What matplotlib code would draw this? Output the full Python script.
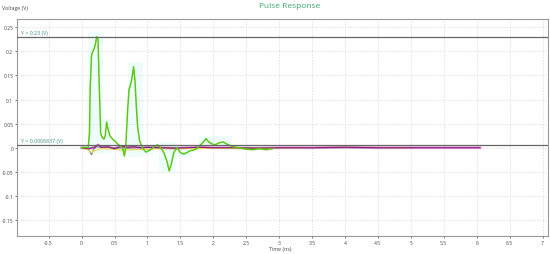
import matplotlib
matplotlib.use("Agg")
import matplotlib.pyplot as plt

plt.rcParams['font.family'] = ['Open Sans', 'DejaVu Sans']

# green trace (main pulse response)
green_t = [0.0, 0.05, 0.1, 0.12, 0.13, 0.15, 0.17, 0.19, 0.21, 0.23, 0.25, 0.27, 0.29,
           0.31, 0.34, 0.36, 0.38, 0.40, 0.43, 0.47, 0.52, 0.56, 0.6, 0.63, 0.65, 0.67,
           0.70, 0.72, 0.74, 0.76, 0.79, 0.81, 0.83, 0.85, 0.88, 0.91, 0.95, 0.98, 1.02,
           1.06, 1.1, 1.15, 1.2, 1.25, 1.3, 1.33, 1.36, 1.4, 1.45, 1.5, 1.55, 1.6, 1.65,
           1.7, 1.75, 1.8, 1.85, 1.89, 1.93, 1.98, 2.03, 2.08, 2.15, 2.2, 2.25, 2.3, 2.4,
           2.5, 2.6, 2.7, 2.8, 2.9]
green_v = [0.0, 0.001, 0.0, 0.03, 0.12, 0.19, 0.2, 0.205, 0.215, 0.23, 0.225, 0.12, 0.03,
           0.022, 0.018, 0.025, 0.053, 0.04, 0.025, 0.018, 0.012, 0.006, 0.003, -0.004, -0.017, 0.0,
           0.08, 0.12, 0.13, 0.14, 0.168, 0.14, 0.09, 0.045, 0.015, 0.004, -0.005, -0.009, -0.006,
           -0.003, 0.002, 0.006, 0.0, -0.01, -0.03, -0.048, -0.035, -0.01, 0.0, -0.01, -0.013, -0.01, -0.006,
           -0.005, -0.002, 0.005, 0.012, 0.019, 0.012, 0.008, 0.006, 0.01, 0.012, 0.008, 0.005, 0.002, 0.0,
           -0.003, -0.004, -0.002, -0.004, -0.002]

# magenta trace
magenta_t = [0.0, 0.1, 0.2, 0.25, 0.3, 0.4, 0.5, 0.6, 0.7, 0.8, 0.9, 1.0, 1.2, 1.4, 1.6, 1.8,
             2.0, 2.3, 2.6, 3.0, 3.5, 4.0, 4.5, 5.0, 5.5, 6.05]
magenta_v = [0.0, -0.002, 0.001, 0.006, 0.001, 0.002, -0.002, 0.003, 0.001, 0.002, 0.0, 0.001,
             0.0, -0.001, 0.0, 0.001, 0.0, 0.0, -0.001, 0.0, 0.0, 0.001, 0.0, 0.0, 0.0, 0.0]

# yellow trace
yellow_t = [0.0, 0.1, 0.15, 0.2, 0.3, 0.5, 0.6, 0.8, 1.0, 1.2, 1.5, 2.0, 2.5, 3.0, 4.0, 5.0]
yellow_v = [0.0, -0.004, -0.01, -0.006, -0.002, -0.003, -0.005, -0.004, -0.003, -0.002,
            -0.002, -0.001, -0.002, 0.0, 0.001, 0.0]

# gray trace
gray_t = [0.0, 0.08, 0.12, 0.15, 0.18, 0.22, 0.3, 0.5, 0.7, 1.0, 1.5, 2.0, 3.0, 4.0, 5.0]
gray_v = [0.0, 0.0, -0.006, -0.015, -0.004, 0.002, 0.001, 0.0, -0.001, 0.001, 0.0, 0.0,
          0.0, 0.0, 0.0]

# highlighted regions (t0, t1, v0, v1)
hl_t0 = [0.09, 0.32, 0.58, 0.70, 0.93, 1.18, 1.33, 1.79]
hl_t1 = [0.32, 0.45, 0.68, 0.93, 1.08, 1.43, 1.68, 2.29]
hl_v0 = [-0.013, -0.01, -0.02, -0.02, -0.015, -0.052, -0.02, 0.003]
hl_v1 = [0.24, 0.06, 0.005, 0.178, 0.005, 0.012, 0.002, 0.024]

# cursor lines
cursor_y = [0.23, 0.0066837]
cursor_lbl = ["Y = 0.23 (V)", "Y = 0.0066837 (V)"]

fig = plt.figure(figsize=(5.5, 2.55), dpi=100)
ax = fig.add_axes([0.031, 0.0706, 0.965, 0.851])

for a, b, c, d in zip(hl_t0, hl_t1, hl_v0, hl_v1):
    ax.fill_between([a, b], c, d, color='#eefdfb', lw=0, zorder=1)

ax.plot(gray_t, gray_v, color='#8a8a8a', lw=0.8, zorder=3)
ax.plot(yellow_t, yellow_v, color='#e8d84a', lw=0.8, zorder=3)
ax.plot(magenta_t, magenta_v, color='#f0a8e8', lw=2.0, zorder=2)
ax.plot(magenta_t, magenta_v, color='#8a1f7a', lw=0.9, zorder=4)
ax.plot(green_t, green_v, color='#5cc814', lw=1.1, zorder=5)

for y, lbl in zip(cursor_y, cursor_lbl):
    ax.axhline(y, color='#666666', lw=0.9, zorder=6)
    ax.text(-0.92, y + 0.004, lbl, color='#3a8f80', fontsize=3.8, va='bottom', ha='left')

ax.set_xlim(-0.98, 7.08)
ax.set_ylim(-0.183, 0.267)
ax.set_xticks([-0.5, 0, 0.5, 1, 1.5, 2, 2.5, 3, 3.5, 4, 4.5, 5, 5.5, 6, 6.5, 7])
ax.set_xticklabels(['-0.5', '0', '0.5', '1', '1.5', '2', '2.5', '3', '3.5', '4', '4.5',
                    '5', '5.5', '6', '6.5', '7'])
ax.set_yticks([-0.15, -0.1, -0.05, 0, 0.05, 0.1, 0.15, 0.2, 0.25])
ax.set_yticklabels(['-0.15', '-0.1', '-0.05', '0', '0.05', '0.1', '0.15', '0.2', '0.25'])
ax.tick_params(labelsize=3.6, length=1.5, width=0.5, pad=1.2, colors='#444444')
ax.grid(True, color='#d8d8d8', ls=(0, (2, 2)), lw=0.5)
for s in ax.spines.values():
    s.set_color('#999999')
    s.set_linewidth(0.8)

fig.text(0.527, 0.975, "Pulse Response", color='#3aa86b', fontsize=6, ha='center', va='center')
fig.text(0.004, 0.968, "Voltage (V)", color='#444444', fontsize=3.8, ha='left', va='center')
fig.text(0.509, 0.022, "Time (ns)", color='#444444', fontsize=3.8, ha='center', va='center')

fig.savefig("out.png", dpi=100)
